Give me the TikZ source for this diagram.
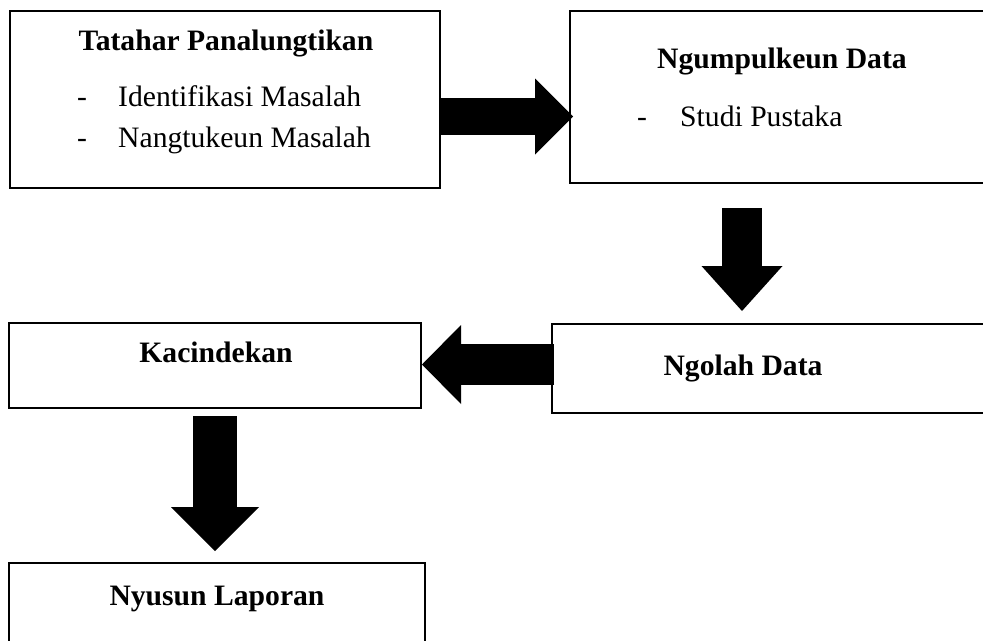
\documentclass[tikz,border=0pt]{standalone}
\usepackage{fontspec}
\setmainfont{Liberation Serif}
\usetikzlibrary{fit,arrows.meta}
\begin{document}
\begin{tikzpicture}[x=0.03cm, y=-0.03cm, line join=miter,
	kotak/.style={draw, line width=0.9pt, inner sep=0pt, outer sep=0pt},
	judul/.style={font=\fontsize{25.3}{30}\selectfont\bfseries, anchor=base, inner sep=0pt},
	isi/.style={font=\fontsize{25.3}{30}\selectfont, anchor=base west, inner sep=0pt},
	panah/.style n args={3}{line width=#1cm, -{Triangle[length=#2cm, width=#3cm, line width=0pt]}}]
				
				\useasboundingbox (0,0) rectangle (983,640);
				\clip (0,0) rectangle (983,640);
				
				% Kotak-kotak
				\node[kotak, fit={(10,11) (440,188)}] (tatahar) {};
				\node[kotak, fit={(570,11) (1000,183)}] (ngumpul) {};
				\node[kotak, fit={(552,324) (1000,413)}] (ngolah) {};
				\node[kotak, fit={(9,323) (421,408)}] (kacindekan) {};
				\node[kotak, fit={(9,563) (425,660)}] (nyusun) {};
				
				% Tatahar Panalungtikan
				\node[judul] (tatahar-judul) at (226,50) {Tatahar Panalungtikan};
				\node[isi] (tatahar-d1) at (77,106) {-};
				\node[isi] (tatahar-s1) at (118,106) {Identifikasi Masalah};
				\node[isi] (tatahar-d2) at (77,147) {-};
				\node[isi] (tatahar-s2) at (118,147) {Nangtukeun Masalah};
				
				% Ngumpulkeun Data
				\node[judul] (ngumpul-judul) at (782,68) {Ngumpulkeun Data};
				\node[isi] (ngumpul-d1) at (637,126) {-};
				\node[isi] (ngumpul-s1) at (680,126) {Studi Pustaka};
				
				% Ngolah, Kacindekan, Nyusun
				\node[judul] (ngolah-judul) at (743,375) {Ngolah Data};
				\node[judul] (kacindekan-judul) at (216,362) {Kacindekan};
				\node[judul] (nyusun-judul) at (217,605) {Nyusun Laporan};
				
				% Panah blok
				\coordinate (p1a) at (440,116.5);
				\coordinate (p1b) at (573,116.5);
				\coordinate (p2a) at (742,208);
				\coordinate (p2b) at (742,311);
				\coordinate (p3a) at (554,364.5);
				\coordinate (p3b) at (422,364.5);
				\coordinate (p4a) at (215,416);
				\coordinate (p4b) at (215,551);
				\draw[panah={1.11}{1.14}{2.28}] (p1a) -- (p1b);
				\draw[panah={1.2}{1.35}{2.43}] (p2a) -- (p2b);
				\draw[panah={1.23}{1.17}{2.37}] (p3a) -- (p3b);
				\draw[panah={1.32}{1.32}{2.64}] (p4a) -- (p4b);
				
			\end{tikzpicture}
\end{document}
